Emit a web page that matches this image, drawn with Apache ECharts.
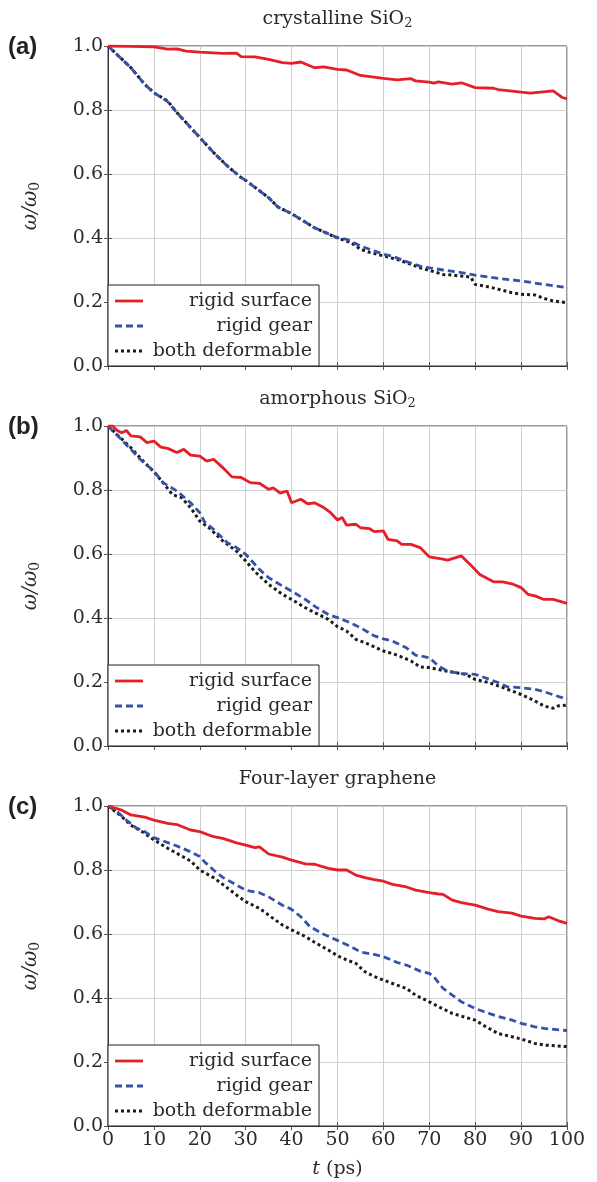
<!DOCTYPE html>
<html>
<head>
<meta charset="utf-8">
<script src="https://cdn.jsdelivr.net/npm/echarts@6/dist/echarts.min.js"></script>
<style>html,body{margin:0;padding:0;background:#fff}#c{width:597px;height:1182px}</style>
</head>
<body>
<div id="c"></div>
<script>
// ---- data ----
const panelTitles = ['crystalline SiO2', 'amorphous SiO2', 'Four-layer graphene'];
const panelLetters = ['(a)', '(b)', '(c)'];
const seriesNames = ['rigid surface', 'rigid gear', 'both deformable'];
const xTicks = [0, 10, 20, 30, 40, 50, 60, 70, 80, 90, 100];
const yTicks = [0.0, 0.2, 0.4, 0.6, 0.8, 1.0];

const aSurface = [[0,1.0],[5,0.999],[10,0.997],[13,0.99],[15,0.991],[17,0.984],[20,0.981],[25,0.977],[28,0.978],[29,0.967],[32,0.966],[35,0.958],[38,0.948],[40,0.946],[42,0.95],[45,0.932],[47,0.935],[50,0.927],[52,0.925],[55,0.908],[60,0.899],[63,0.894],[66,0.898],[67,0.891],[70,0.887],[71,0.884],[72,0.888],[75,0.881],[77,0.885],[80,0.87],[84,0.868],[85,0.864],[90,0.856],[92,0.853],[97,0.86],[99,0.839],[100,0.835]];
const aGear = [[0,1.0],[5,0.932],[8,0.88],[10,0.854],[13,0.826],[15,0.792],[20,0.714],[23,0.667],[26,0.625],[29,0.589],[30,0.58],[35,0.526],[37,0.497],[40,0.476],[45,0.432],[50,0.401],[52,0.396],[55,0.375],[57,0.365],[60,0.349],[62,0.343],[65,0.326],[68,0.312],[70,0.307],[73,0.3],[77,0.292],[80,0.284],[85,0.274],[90,0.266],[93,0.259],[95,0.255],[100,0.245]];
const aBoth = [[0,1.0],[5,0.932],[8,0.88],[10,0.854],[13,0.828],[15,0.792],[20,0.714],[23,0.667],[26,0.625],[29,0.589],[30,0.58],[35,0.526],[37,0.497],[40,0.476],[45,0.432],[50,0.4],[53,0.385],[55,0.365],[57,0.355],[60,0.344],[63,0.333],[65,0.323],[68,0.307],[70,0.299],[73,0.286],[75,0.284],[77,0.281],[79,0.278],[80,0.255],[83,0.247],[85,0.24],[88,0.229],[90,0.224],[93,0.222],[95,0.211],[97,0.203],[100,0.198]];

const bSurface = [[0,1.0],[1,1.0],[2,0.986],[3,0.979],[4,0.986],[5,0.969],[7,0.966],[8.5,0.948],[10,0.953],[11.5,0.934],[13,0.93],[15,0.917],[16.5,0.927],[18,0.909],[20,0.906],[21.5,0.89],[23,0.896],[25,0.87],[27,0.841],[29,0.839],[31,0.823],[33,0.821],[35,0.802],[36,0.807],[37.5,0.79],[39,0.797],[40,0.76],[42,0.771],[43.5,0.757],[45,0.76],[47,0.745],[48.5,0.729],[50,0.706],[51,0.714],[52,0.69],[54,0.693],[55,0.682],[57,0.679],[58,0.67],[60,0.672],[61,0.646],[63,0.641],[64,0.63],[66,0.63],[68,0.62],[70,0.591],[73,0.584],[74,0.581],[77,0.594],[79,0.566],[81,0.536],[84,0.513],[86,0.513],[88,0.507],[90,0.495],[91.5,0.474],[93,0.469],[95,0.458],[97,0.458],[100,0.446]];
const bGear = [[0,1.0],[5,0.927],[7,0.896],[10,0.859],[12,0.823],[15,0.797],[18,0.76],[20,0.729],[21,0.701],[23,0.677],[26,0.635],[28,0.62],[30,0.599],[33,0.552],[35,0.526],[38,0.5],[40,0.484],[43,0.458],[45,0.437],[48,0.411],[50,0.401],[52,0.39],[55,0.37],[58,0.344],[60,0.335],[62,0.328],[65,0.307],[67,0.284],[70,0.276],[72,0.25],[74,0.234],[77,0.226],[80,0.224],[82,0.214],[85,0.198],[87,0.185],[90,0.182],[93,0.177],[95,0.17],[97,0.16],[100,0.146]];
const bBoth = [[0,1.0],[5,0.932],[8,0.885],[10,0.857],[12,0.823],[14,0.786],[16,0.776],[18,0.745],[20,0.703],[22,0.682],[25,0.641],[28,0.609],[30,0.578],[32,0.545],[35,0.505],[38,0.474],[40,0.458],[43,0.432],[45,0.417],[48,0.396],[50,0.373],[52,0.359],[54,0.333],[56,0.323],[60,0.297],[63,0.284],[66,0.266],[68,0.247],[70,0.245],[73,0.236],[75,0.231],[78,0.224],[80,0.208],[83,0.198],[85,0.188],[88,0.172],[90,0.161],[93,0.141],[95,0.125],[97,0.118],[98,0.125],[100,0.128]];

const cSurface = [[0,1.0],[3,0.987],[5,0.972],[8,0.965],[10,0.956],[13,0.946],[15,0.942],[18,0.925],[20,0.92],[23,0.904],[25,0.899],[28,0.885],[30,0.878],[32,0.87],[33,0.872],[35,0.85],[38,0.84],[40,0.831],[43,0.819],[45,0.818],[48,0.805],[50,0.8],[52,0.8],[54,0.784],[56,0.776],[58,0.77],[60,0.765],[62,0.755],[65,0.747],[67,0.737],[70,0.729],[72,0.725],[73,0.724],[75,0.706],[77,0.698],[80,0.69],[83,0.677],[85,0.67],[88,0.665],[90,0.656],[93,0.649],[95,0.647],[96,0.654],[98,0.642],[100,0.633]];
const cGear = [[0,1.0],[2,0.982],[4,0.956],[6,0.933],[8,0.92],[10,0.901],[12,0.891],[15,0.875],[18,0.857],[20,0.842],[21,0.826],[23,0.8],[25,0.777],[28,0.753],[30,0.737],[33,0.729],[35,0.716],[38,0.69],[40,0.677],[42,0.654],[44,0.623],[47,0.599],[50,0.58],[53,0.56],[55,0.544],[58,0.536],[60,0.529],[63,0.511],[65,0.503],[68,0.484],[70,0.477],[71,0.466],[73,0.43],[75,0.409],[77,0.388],[80,0.367],[82,0.357],[85,0.342],[88,0.331],[90,0.321],[93,0.31],[95,0.305],[100,0.298]];
const cBoth = [[0,1.0],[3,0.967],[5,0.94],[8,0.915],[10,0.894],[13,0.868],[15,0.852],[18,0.828],[20,0.8],[23,0.776],[25,0.755],[28,0.722],[30,0.701],[33,0.68],[35,0.659],[38,0.628],[40,0.613],[43,0.592],[45,0.574],[48,0.55],[50,0.532],[52,0.519],[54,0.508],[56,0.482],[58,0.467],[60,0.456],[63,0.44],[65,0.43],[67,0.409],[70,0.388],[72,0.373],[75,0.352],[78,0.339],[80,0.331],[82,0.313],[85,0.289],[88,0.279],[90,0.272],[93,0.258],[95,0.253],[100,0.248]];

const panelData = [[aSurface, aGear, aBoth], [bSurface, bGear, bBoth], [cSurface, cGear, cBoth]];

// ---- layout / style ----
const W = 597;
const GL = 108, GR = 30, GH = 320;
const GTOPS = [46, 426, 806];
const SERIF = '"DejaVu Serif", serif';
const TXT = '#2b2b2b';
const FS = 19;
const lineStyles = [
  {color: '#e41f28', width: 2.8, type: 'solid'},
  {color: '#3552a8', width: 2.8, type: [7, 4]},
  {color: '#1b1b1b', width: 3, type: [3, 3]}
];

const grids = [], xAxes = [], yAxes = [], series = [], graphics = [];
const plotW = W - GL - GR;
const mirrorTick = {show: true, inside: true, length: 4, lineStyle: {color: '#555'}};

GTOPS.forEach((top, p) => {
  grids.push({left: GL, width: plotW, top: top, height: GH, show: true, borderColor: '#333', borderWidth: 1, backgroundColor: 'transparent'});
  xAxes.push({
    type: 'value', gridIndex: p, min: xTicks[0], max: xTicks[xTicks.length - 1], interval: 10,
    axisLine: {show: true, lineStyle: {color: '#333', width: 1}},
    axisTick: mirrorTick,
    splitLine: {show: true, lineStyle: {color: '#cfcfcf', width: 1}},
    axisLabel: {show: p === 2, fontFamily: SERIF, fontSize: FS, color: TXT, margin: 5},
    name: p === 2 ? '{i|t} (ps)' : '', nameLocation: 'middle', nameGap: 34,
    nameTextStyle: {fontFamily: SERIF, fontSize: FS, color: TXT, rich: {i: {fontStyle: 'italic', fontFamily: SERIF, fontSize: FS, color: TXT}}}
  });
  yAxes.push({
    type: 'value', gridIndex: p, min: yTicks[0], max: yTicks[yTicks.length - 1], interval: 0.2,
    axisLine: {show: true, lineStyle: {color: '#333', width: 1}},
    axisTick: mirrorTick,
    splitLine: {show: true, lineStyle: {color: '#cfcfcf', width: 1}},
    axisLabel: {fontFamily: SERIF, fontSize: FS, color: TXT, margin: 5, formatter: v => v.toFixed(1)},
    name: '{i|ω/ω}{s|0}', nameLocation: 'middle', nameGap: 66, nameRotate: 90,
    nameTextStyle: {fontFamily: SERIF, fontSize: 20, color: TXT, rich: {
      i: {fontStyle: 'italic', fontFamily: SERIF, fontSize: 20, color: TXT},
      s: {fontFamily: SERIF, fontSize: 14, color: TXT, verticalAlign: 'bottom', padding: [9, 0, 0, 0]}
    }}
  });
  // mirrored ticks on top / right
  xAxes.push({type: 'value', gridIndex: p, position: 'top', min: xTicks[0], max: xTicks[xTicks.length - 1], interval: 10,
    axisLine: {show: false}, axisTick: mirrorTick, splitLine: {show: false}, axisLabel: {show: false}});
  yAxes.push({type: 'value', gridIndex: p, position: 'right', min: yTicks[0], max: yTicks[yTicks.length - 1], interval: 0.2,
    axisLine: {show: false}, axisTick: mirrorTick, splitLine: {show: false}, axisLabel: {show: false}});
  panelData[p].forEach((d, k) => {
    series.push({
      name: seriesNames[k], type: 'line', xAxisIndex: 2 * p, yAxisIndex: 2 * p, data: d,
      showSymbol: false, symbol: 'none', lineStyle: lineStyles[k], z: 5 - k, silent: true, animation: false
    });
  });
  // title with subscript
  const t = panelTitles[p];
  const m = t.match(/^(.*)O2$/);
  graphics.push({
    type: 'text', x: GL + plotW / 2, y: top - 27, z: 10,
    style: m ? {
      text: '{n|' + m[1] + 'O}{s|2}', textAlign: 'center', textVerticalAlign: 'middle',
      rich: {n: {fontFamily: SERIF, fontSize: FS, fill: TXT}, s: {fontFamily: SERIF, fontSize: 13, fill: TXT, padding: [10, 0, 0, 0]}}
    } : {text: t, textAlign: 'center', textVerticalAlign: 'middle', font: FS + 'px ' + SERIF, fill: TXT}
  });
  graphics.push({
    type: 'text', x: 8, y: top + 1, z: 10,
    style: {text: panelLetters[p], font: 'bold 24px "Liberation Sans", Arial, sans-serif', fill: '#222', textVerticalAlign: 'middle'}
  });
  // legend box
  const bx = GL, by = top + 239, bw = 211, bh = GH - 239;
  graphics.push({type: 'rect', shape: {x: bx, y: by, width: bw, height: bh}, style: {fill: '#fff', stroke: '#222', lineWidth: 1}, z: 20});
  const rows = [255, 280, 305];
  rows.forEach((ry, k) => {
    const ls = lineStyles[k];
    graphics.push({type: 'line', shape: {x1: bx + 7, y1: top + ry, x2: bx + 35, y2: top + ry}, z: 21,
      style: {stroke: ls.color, lineWidth: ls.width, lineDash: ls.type === 'solid' ? null : ls.type}});
    graphics.push({type: 'text', x: bx + bw - 7, y: top + ry, z: 21,
      style: {text: seriesNames[k], font: FS + 'px ' + SERIF, fill: TXT, textAlign: 'right', textVerticalAlign: 'middle'}});
  });
});

const chart = echarts.init(document.getElementById('c'), null, {renderer: 'canvas'});
chart.setOption({
  animation: false,
  backgroundColor: '#fff',
  grid: grids, xAxis: xAxes, yAxis: yAxes, series: series, graphic: graphics
});
</script>
</body>
</html>
